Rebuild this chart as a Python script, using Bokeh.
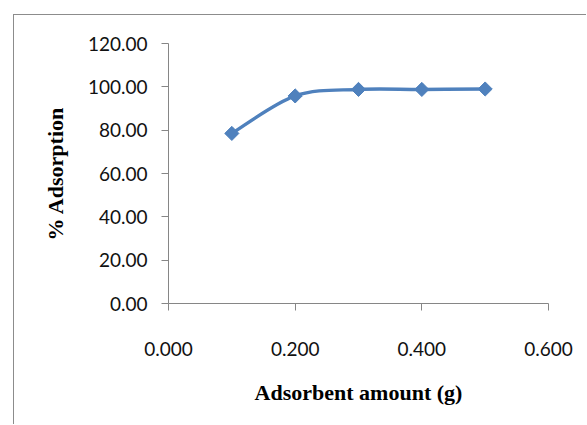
import numpy as np
from bokeh.plotting import figure
from bokeh.models import Range1d, FixedTicker, CustomJSTickFormatter
from bokeh.embed import file_html
from bokeh.resources import INLINE

# data
adsorbent_g = [0.1, 0.2, 0.3, 0.4, 0.5]
adsorption_pct = [78.5, 95.8, 98.8, 98.8, 99.0]
x_ticks = [0.0, 0.2, 0.4, 0.6]
y_ticks = [0, 20, 40, 60, 80, 100, 120]

BLUE = "#4F81BD"
AXIS = "#868686"

p = figure(width=573, height=410, output_backend="svg", toolbar_location=None,
           x_range=Range1d(0, 0.6), y_range=Range1d(0, 120),
           min_border_left=154, min_border_right=39, min_border_top=28, min_border_bottom=122)
p.margin = (14, 0, 0, 13)
p.styles = {"border-top": "1px solid #8c8c8c", "border-left": "1px solid #8c8c8c"}
p.outline_line_color = None
p.grid.grid_line_color = None
p.background_fill_color = "white"
p.border_fill_color = "white"

# smoothed line via Catmull-Rom bezier segments built from the data points
xs = np.array(adsorbent_g)
ys = np.array(adsorption_pct)
n = len(xs)
x0, y0, x1, y1, cx0, cy0, cx1, cy1 = [], [], [], [], [], [], [], []
for i in range(n - 1):
    im1 = max(i - 1, 0)
    ip2 = min(i + 2, n - 1)
    x0.append(xs[i]); y0.append(ys[i]); x1.append(xs[i + 1]); y1.append(ys[i + 1])
    cx0.append(xs[i] + (xs[i + 1] - xs[im1]) / 6); cy0.append(ys[i] + (ys[i + 1] - ys[im1]) / 6)
    cx1.append(xs[i + 1] - (xs[ip2] - xs[i]) / 6); cy1.append(ys[i + 1] - (ys[ip2] - ys[i]) / 6)
p.bezier(x0=x0, y0=y0, x1=x1, y1=y1, cx0=cx0, cy0=cy0, cx1=cx1, cy1=cy1,
         line_color=BLUE, line_width=3.4)
p.scatter(adsorbent_g, adsorption_pct, marker="square", size=10, angle=np.pi / 4,
          fill_color=BLUE, line_color=BLUE)

for ax in (p.xaxis[0], p.yaxis[0]):
    ax.axis_line_color = AXIS
    ax.major_tick_line_color = AXIS
    ax.minor_tick_line_color = None
    ax.major_tick_in = 0
    ax.major_tick_out = 7
    ax.major_label_text_font = "Lato"
    ax.major_label_text_font_size = "19px"
    ax.major_label_text_color = "#111111"
    ax.axis_label_text_font = "Liberation Serif"
    ax.axis_label_text_font_style = "bold"
    ax.axis_label_text_font_size = "22px"
    ax.axis_label_text_color = "#000000"

p.xaxis.ticker = FixedTicker(ticks=x_ticks)
p.yaxis.ticker = FixedTicker(ticks=y_ticks)
p.xaxis.formatter = CustomJSTickFormatter(code="return tick.toFixed(3);")
p.yaxis.formatter = CustomJSTickFormatter(code="return tick.toFixed(2);")
p.xaxis.axis_label = "Adsorbent amount (g)"
p.yaxis.axis_label = "% Adsorption"
p.xaxis.major_label_standoff = 31
p.yaxis.major_label_standoff = 14
p.xaxis.axis_label_standoff = 21
p.yaxis.axis_label_standoff = 17

open("out.html", "w").write(file_html(p, INLINE))
